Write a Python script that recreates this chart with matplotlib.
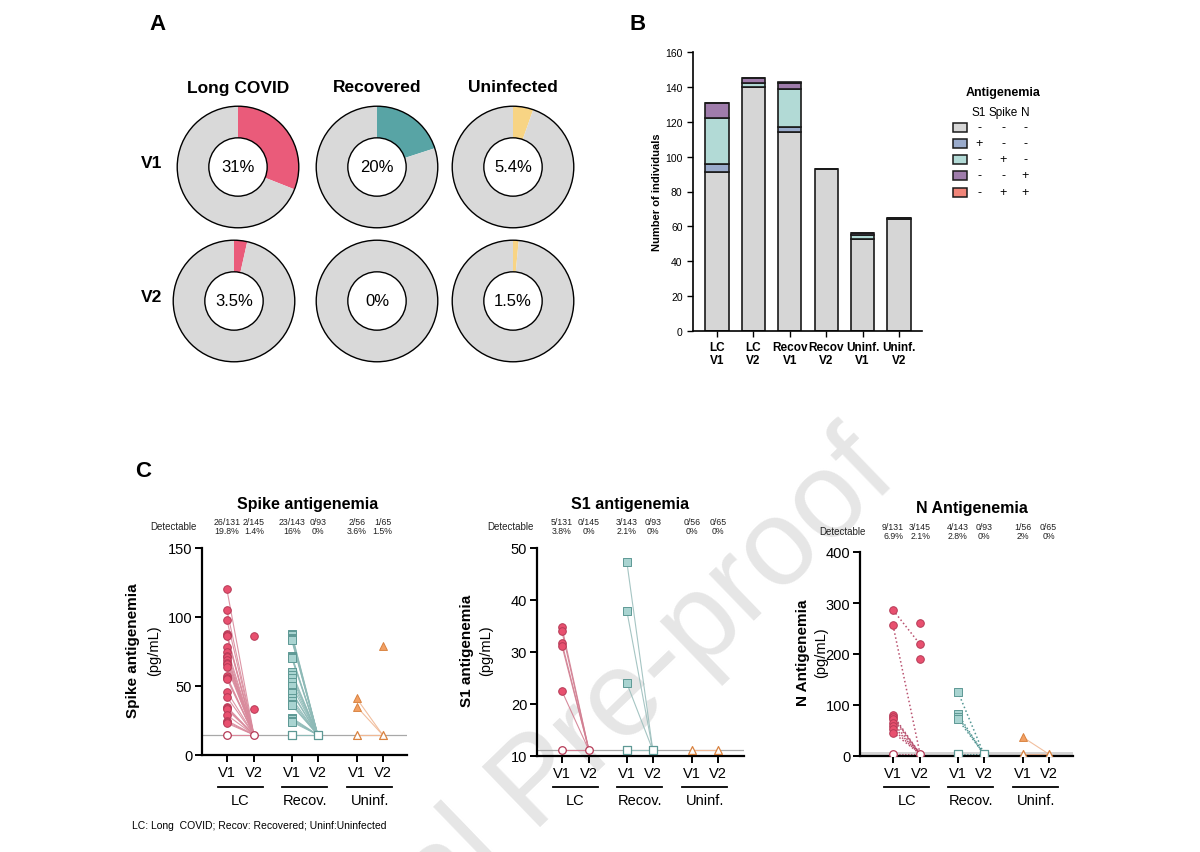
import matplotlib
matplotlib.use('Agg')
import matplotlib.pyplot as plt
from matplotlib.patches import Circle, Rectangle
import matplotlib.transforms as mtransforms

plt.rcParams['font.family'] = ['Liberation Sans', 'DejaVu Sans']

# ---------------- DATA ----------------
# Panel A
donut_groups = ['Long COVID', 'Recovered', 'Uninfected']
pct_v1 = [31, 20, 5.4]
pct_v2 = [3.5, 0, 1.5]
pct_v1_labels = ['31%', '20%', '5.4%']
pct_v2_labels = ['3.5%', '0%', '1.5%']
donut_colors = ['#EA5B7A', '#58A4A5', '#F8D484']

# Panel B
bar_labels = ['LC\nV1', 'LC\nV2', 'Recov\nV1', 'Recov\nV2', 'Uninf.\nV1', 'Uninf.\nV2']
neg_all = [91, 140, 114, 93, 53, 64]
s1_only = [5, 0, 3, 0, 0, 0]
spike_only = [26, 2, 22, 0, 2, 1]
n_only = [9, 3, 3, 0, 1, 0]
spike_n = [0, 0, 1, 0, 0, 0]
legend_rows = [['-', '-', '-'], ['+', '-', '-'], ['-', '+', '-'], ['-', '-', '+'], ['-', '+', '+']]

# Panel C - Spike
spike_lc_v1 = [120, 105, 98, 88, 87, 86, 78, 75, 72, 71, 69, 67, 66, 64, 57, 56, 55,
               46, 42, 35, 34, 33, 29, 25, 24, 23]
spike_lc_v2 = [86, 33]
spike_rec_v1 = [88, 87, 85, 84, 83, 72, 71, 70, 60, 58, 56, 53, 50, 46, 45, 41, 39,
                37, 36, 27, 26, 25, 24]
spike_rec_v2 = []
spike_un_v1 = [41, 35]
spike_un_v2 = [79]
spike_lod = 14.6
spike_frac = ['26/131\n19.8%', '2/145\n1.4%', '23/143\n16%', '0/93\n0%', '2/56\n3.6%', '1/65\n1.5%']

# Panel C - S1
s1_lc_v1 = [34.8, 34.0, 31.8, 31.2, 22.5]
s1_rec_v1 = [47.3, 37.9, 24.0]
s1_un_v1 = []
s1_lod = 11.1
s1_frac = ['5/131\n3.8%', '0/145\n0%', '3/143\n2.1%', '0/93\n0%', '0/56\n0%', '0/65\n0%']

# Panel C - N
n_lc_v1 = [286, 256, 80, 77, 73, 64, 58, 52, 46]
n_lc_v1_to_v2 = [219, 4, 4, 4, 4, 4, 4, 4, 4]
n_lc_v2 = [260, 219, 191]
n_rec_v1 = [126, 82, 77, 72]
n_un_v1 = [37]
n_lod = 4
n_frac = ['9/131\n6.9%', '3/145\n2.1%', '4/143\n2.8%', '0/93\n0%', '1/56\n2%', '0/65\n0%']

cat_ticks = ['V1', 'V2', 'V1', 'V2', 'V1', 'V2']
group_names = ['LC', 'Recov.', 'Uninf.']

# ---------------- LAYOUT HELPERS ----------------
W, H = 1200, 853
fig = plt.figure(figsize=(12, 8.53), dpi=100)


def fx(p):
    return p / W


def fy(p):
    return 1 - p / H


def add_ax(l, t, r, b):
    return fig.add_axes([fx(l), fy(b), (r - l) / W, (b - t) / H])


GRAY = '#D9D9D9'

# watermark
fig.text(fx(900), fy(480), 'Journal Pre-proof', rotation=44, rotation_mode='anchor',
         fontsize=88, color='#E6E6E6', ha='right', va='baseline', zorder=-5)

# ---------------- PANEL A ----------------
fig.text(fx(157), fy(25), 'A', fontsize=16, fontweight='bold', ha='center', va='center')
v1_centers = [(238, 168), (377, 168), (513, 168)]
v2_centers = [(234, 302), (377, 302), (513, 302)]
R = 62
for row, (centers, pcts, labs) in enumerate([(v1_centers, pct_v1, pct_v1_labels),
                                            (v2_centers, pct_v2, pct_v2_labels)]):
    for i, ((cx, cy), p, lab) in enumerate(zip(centers, pcts, labs)):
        ax = add_ax(cx - R, cy - R, cx + R, cy + R)
        ax.pie([p, 100 - p], colors=[donut_colors[i], GRAY], startangle=90,
               counterclock=False, radius=1,
               wedgeprops=dict(width=0.52, edgecolor='none', linewidth=0))
        ax.add_patch(Circle((0, 0), 1, fill=False, ec='black', lw=1.0))
        ax.add_patch(Circle((0, 0), 0.48, fill=False, ec='black', lw=1.0))
        ax.text(0, 0, lab, ha='center', va='center', fontsize=12)
        ax.set_xlim(-1.02, 1.02)
        ax.set_ylim(-1.02, 1.02)
        ax.set_aspect('equal')
        ax.axis('off')
for i, g in enumerate(donut_groups):
    fig.text(fx(v1_centers[i][0]), fy(88), g, fontsize=12.5, fontweight='bold',
             ha='center', va='center')
fig.text(fx(152), fy(163), 'V1', fontsize=12.5, fontweight='bold', ha='center', va='center')
fig.text(fx(152), fy(298), 'V2', fontsize=12.5, fontweight='bold', ha='center', va='center')

# ---------------- PANEL B ----------------
fig.text(fx(638), fy(25), 'B', fontsize=16, fontweight='bold', ha='center', va='center')
axb = add_ax(693, 53, 922, 332)
layers = [(neg_all, '#D6D6D6'), (s1_only, '#9AABCC'), (spike_only, '#B2DAD6'),
          (n_only, '#9F7CAB'), (spike_n, '#F08579')]
x = list(range(len(bar_labels)))
bottom = [0] * len(x)
for vals, col in layers:
    axb.bar(x, vals, bottom=bottom, width=0.64, color=col, edgecolor='#1a1a1a', linewidth=1.2)
    bottom = [b + v for b, v in zip(bottom, vals)]
axb.set_xlim(-0.66, 5.63)
axb.set_ylim(0, 160)
axb.set_yticks(range(0, 161, 20))
axb.set_xticks(x)
axb.set_xticklabels(bar_labels, fontsize=8.5, fontweight='bold', linespacing=1.05)
axb.tick_params(axis='y', labelsize=7.5, length=4, width=1)
axb.tick_params(axis='x', length=4, width=1)
axb.spines['top'].set_visible(False)
axb.spines['right'].set_visible(False)
for s in ['left', 'bottom']:
    axb.spines[s].set_linewidth(1.2)
axb.set_ylabel('Number of individuals', fontsize=8, fontweight='bold', labelpad=2)
axb.patch.set_alpha(0)

# legend (table style)
fig.text(fx(1003), fy(93), 'Antigenemia', fontsize=9, fontweight='bold', ha='center', va='center')
col_x = [979, 1003, 1025]
for cx_, h in zip(col_x, ['S1', 'Spike', 'N']):
    fig.text(fx(cx_), fy(113), h, fontsize=8.5, ha='center', va='center')
row_y = [128, 144, 160, 176, 193]
for (vals, col), ry, signs in zip(layers, row_y, legend_rows):
    fig.patches.append(Rectangle((fx(953), fy(ry + 4.5)), 14 / W, 9 / H, transform=fig.transFigure,
                                 facecolor=col, edgecolor='#1a1a1a', linewidth=1.1))
    for cx_, sgn in zip(col_x, signs):
        fig.text(fx(cx_), fy(ry), sgn, fontsize=9, ha='center', va='center')

# ---------------- PANEL C ----------------
fig.text(fx(143), fy(472), 'C', fontsize=16, fontweight='bold', ha='center', va='center')

PINK, PINK_E = '#E8506F', '#B53A56'
TEAL, TEAL_E = '#A9D4D1', '#5E9995'
ORNG, ORNG_E = '#F2A064', '#D9823F'
PINK_L, TEAL_L, ORNG_L = '#D98A9C', '#8EBAB7', '#F0B894'
pos = [0, 1.02, 2.45, 3.43, 4.9, 5.88]

box_xlim = {'Spike antigenemia': (-0.94, 6.8), 'S1 antigenemia': (-0.94, 6.87),
            'N Antigenemia': (-1.25, 6.8)}


def c_panel(box, ylim, yticks, lod, title, title_xy, det_xy, frac, ylab, ylab_x, groups,
            lines_dotted=False, lod_band=None):
    l, t, r, b = box
    ax = add_ax(l, t, r, b)
    ax.patch.set_alpha(0)
    ax.set_ylim(*ylim)
    if lod_band is not None:
        ax.axhspan(ylim[0], lod_band, color='#D4D4D4', lw=0, zorder=0)
    else:
        ax.axhline(lod, color='#A8A8A8', lw=0.9, zorder=1)
    ls = ':' if lines_dotted else '-'
    for gi, g in enumerate(groups):
        x1, x2 = pos[2 * gi], pos[2 * gi + 1]
        mk, fc, ec, lc = g['marker'], g['fc'], g['ec'], g['lc']
        for v, w in zip(g['v1'], g['v1_to_v2']):
            ax.plot([x1, x2], [v, w], color=lc, lw=g.get('lw', 0.8), ls=g.get('ls', ls),
                    zorder=2, alpha=0.9)
        ax.plot([x1, x2], [lod, lod], color=lc, lw=0.8, ls=g.get('ls', ls), zorder=2)
        ax.scatter([x1, x2], [lod, lod], marker=mk, s=g['s'], facecolor='white',
                   edgecolor=ec, linewidth=0.9, zorder=4)
        if g['v1']:
            ax.scatter([x1] * len(g['v1']), g['v1'], marker=mk, s=g['s'], facecolor=fc,
                       edgecolor=ec, linewidth=0.7, zorder=5)
        if g['v2']:
            ax.scatter([x2] * len(g['v2']), g['v2'], marker=mk, s=g['s'], facecolor=fc,
                       edgecolor=ec, linewidth=0.7, zorder=5)
    ax.set_xlim(*box_xlim[title])
    ax.set_yticks(yticks)
    ax.set_xticks(pos)
    ax.set_xticklabels(cat_ticks, fontsize=10.5)
    ax.tick_params(axis='y', labelsize=10.5, length=5, width=1.4, pad=2)
    ax.tick_params(axis='x', length=5, width=1.4, pad=2)
    ax.spines['top'].set_visible(False)
    ax.spines['right'].set_visible(False)
    for s in ['left', 'bottom']:
        ax.spines[s].set_linewidth(1.6)
    trans = mtransforms.blended_transform_factory(ax.transData, ax.transAxes)
    hpx = b - t
    y_line = -(788 - b) / hpx
    y_lab = -(801 - b) / hpx
    for gi, name in enumerate(group_names):
        x1, x2 = pos[2 * gi], pos[2 * gi + 1]
        c = (x1 + x2) / 2
        ax.plot([c - 0.85, c + 0.85], [y_line, y_line], color='black', lw=1.3,
                transform=trans, clip_on=False)
        ax.text(c, y_lab, name, transform=trans, ha='center', va='center', fontsize=10.5)
    y_frac = (b - det_xy[1]) / hpx
    for p, f in zip(pos, frac):
        ax.text(p, y_frac, f, transform=trans, ha='center', va='center', fontsize=6.3,
                linespacing=0.95, color='#222222')
    fig.text(fx(det_xy[0]), fy(det_xy[1]), 'Detectable', fontsize=7, ha='center', va='center',
             color='#222222')
    fig.text(fx(title_xy[0]), fy(title_xy[1]), title, fontsize=11.5, fontweight='bold',
             ha='center', va='center')
    cy = (t + b) / 2 - 2
    fig.text(fx(ylab_x[0]), fy(cy), ylab, rotation=90, fontsize=11, fontweight='bold',
             ha='center', va='center')
    fig.text(fx(ylab_x[1]), fy(cy), '(pg/mL)', rotation=90, fontsize=10.5,
             ha='center', va='center')
    return ax


spike_groups = [
    dict(v1=spike_lc_v1, v1_to_v2=[spike_lod] * len(spike_lc_v1), v2=spike_lc_v2,
         marker='o', fc=PINK, ec=PINK_E, lc=PINK_L, s=30),
    dict(v1=spike_rec_v1, v1_to_v2=[spike_lod] * len(spike_rec_v1), v2=spike_rec_v2,
         marker='s', fc=TEAL, ec=TEAL_E, lc=TEAL_L, s=28),
    dict(v1=spike_un_v1, v1_to_v2=[spike_lod] * len(spike_un_v1), v2=spike_un_v2,
         marker='^', fc=ORNG, ec=ORNG_E, lc=ORNG_L, s=32),
]
c_panel((202, 549, 407, 756), (0, 150), [0, 50, 100, 150], spike_lod, 'Spike antigenemia',
        (308, 505), (173, 527), spike_frac, 'Spike antigenemia', (133, 154), spike_groups)

s1_groups = [
    dict(v1=s1_lc_v1, v1_to_v2=[s1_lod] * len(s1_lc_v1), v2=[],
         marker='o', fc=PINK, ec=PINK_E, lc='#D27F92', s=30),
    dict(v1=s1_rec_v1, v1_to_v2=[s1_lod] * len(s1_rec_v1), v2=[],
         marker='s', fc=TEAL, ec=TEAL_E, lc='#9CBFBD', s=28),
    dict(v1=s1_un_v1, v1_to_v2=[], v2=[],
         marker='^', fc=ORNG, ec=ORNG_E, lc=ORNG_L, s=32),
]
c_panel((537, 549, 744, 757), (10, 50), [10, 20, 30, 40, 50], s1_lod, 'S1 antigenemia',
        (630, 505), (510, 527), s1_frac, 'S1 antigenemia', (467, 486), s1_groups)

n_groups = [
    dict(v1=n_lc_v1, v1_to_v2=n_lc_v1_to_v2, v2=n_lc_v2,
         marker='o', fc=PINK, ec=PINK_E, lc='#B23F60', s=30, lw=1.1),
    dict(v1=n_rec_v1, v1_to_v2=[n_lod] * len(n_rec_v1), v2=[],
         marker='s', fc=TEAL, ec=TEAL_E, lc='#3F8A87', s=28, lw=1.1),
    dict(v1=n_un_v1, v1_to_v2=[n_lod] * len(n_un_v1), v2=[],
         marker='^', fc=ORNG, ec=ORNG_E, lc=ORNG_L, s=32, ls='-'),
]
c_panel((860, 553, 1073, 757), (0, 400), [0, 100, 200, 300, 400], n_lod, 'N Antigenemia',
        (972, 508), (842, 532), n_frac, 'N Antigenemia', (803, 821), n_groups,
        lines_dotted=True, lod_band=8)

fig.text(fx(132), fy(826), 'LC: Long  COVID; Recov: Recovered; Uninf:Uninfected',
         fontsize=7.5, ha='left', va='center')

fig.savefig('out.png', dpi=100)
